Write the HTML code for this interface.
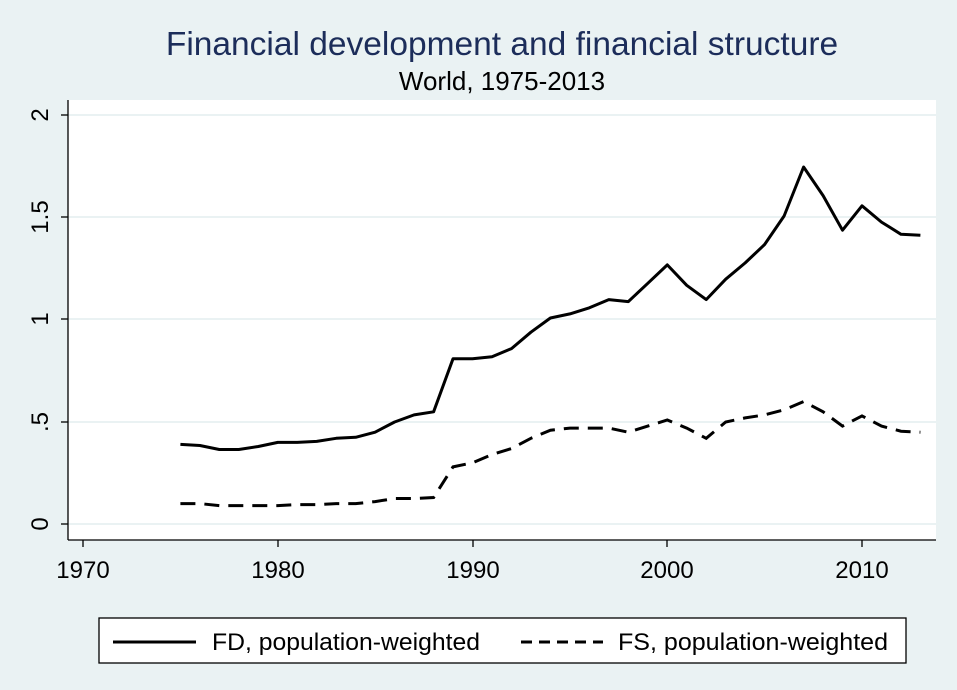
<!DOCTYPE html>
<html><head><meta charset="utf-8"><style>
html,body{margin:0;padding:0;background:#eaf2f3;}
svg{display:block;}
text{font-family:"Liberation Sans",Arial,sans-serif;}
</style></head><body>
<svg id="s" width="957" height="690" xmlns="http://www.w3.org/2000/svg">
<rect width="957" height="690" fill="#eaf2f3"/>
<text x="502" y="55" font-size="33.5" fill="#1c2d5a" text-anchor="middle">Financial development and financial structure</text>
<text x="502" y="90" font-size="26" fill="#000" text-anchor="middle">World, 1975-2013</text>
<rect x="68" y="100" width="868" height="440" fill="#fff"/>
<g stroke="#eaf2f3" stroke-width="2">
<line x1="68" x2="936" y1="115" y2="115"/><line x1="68" x2="936" y1="217" y2="217"/>
<line x1="68" x2="936" y1="319" y2="319"/><line x1="68" x2="936" y1="422" y2="422"/>
<line x1="68" x2="936" y1="524" y2="524"/>
</g>
<g stroke="#000" stroke-width="1.3">
<line x1="68" y1="100" x2="68" y2="540"/><line x1="68" y1="540" x2="936" y2="540"/>
<line x1="61" x2="68" y1="115" y2="115"/><line x1="61" x2="68" y1="217" y2="217"/>
<line x1="61" x2="68" y1="319" y2="319"/><line x1="61" x2="68" y1="422" y2="422"/>
<line x1="61" x2="68" y1="524" y2="524"/>
<line x1="83" x2="83" y1="540" y2="547"/><line x1="278" x2="278" y1="540" y2="547"/>
<line x1="473" x2="473" y1="540" y2="547"/><line x1="667" x2="667" y1="540" y2="547"/>
<line x1="862" x2="862" y1="540" y2="547"/>
</g>
<g font-size="24" fill="#000" text-anchor="middle">
<text transform="translate(48,115) rotate(-90)">2</text>
<text transform="translate(48,217) rotate(-90)">1.5</text>
<text transform="translate(48,319) rotate(-90)">1</text>
<text transform="translate(48,422) rotate(-90)">.5</text>
<text transform="translate(48,524) rotate(-90)">0</text>
<text x="83" y="578">1970</text><text x="278" y="578">1980</text>
<text x="473" y="578">1990</text><text x="667" y="578">2000</text>
<text x="862" y="578">2010</text>
</g>
<polyline id="fd" fill="none" stroke="#000" stroke-width="3" stroke-linejoin="round"/>
<polyline id="fs" fill="none" stroke="#000" stroke-width="3" stroke-dasharray="15,9"/>
<rect x="99" y="618" width="807" height="45" fill="#fff" stroke="#000" stroke-width="1.3"/>
<line x1="113" x2="196" y1="642" y2="642" stroke="#000" stroke-width="3"/>
<line x1="521" x2="603" y1="642" y2="642" stroke="#000" stroke-width="3" stroke-dasharray="11,7"/>
<text x="212" y="650" font-size="24.5" textLength="268" lengthAdjust="spacingAndGlyphs">FD, population-weighted</text>
<text x="618" y="650" font-size="24.5" textLength="270" lengthAdjust="spacingAndGlyphs">FS, population-weighted</text>
</svg>
<script>
var fd=[.39,.385,.365,.365,.38,.40,.40,.405,.42,.425,.45,.50,.535,.55,.81,.81,.82,.86,.94,1.01,1.03,1.06,1.10,1.09,1.18,1.27,1.17,1.10,1.20,1.28,1.37,1.51,1.75,1.61,1.44,1.56,1.48,1.42,1.415];
var fs=[.10,.10,.09,.09,.09,.09,.095,.095,.10,.10,.11,.125,.125,.13,.28,.30,.34,.37,.42,.46,.47,.47,.47,.45,.48,.51,.47,.42,.50,.52,.535,.56,.60,.55,.48,.53,.48,.455,.45];
function pts(a){return a.map(function(v,i){return (83+19.475*(i+5)).toFixed(1)+","+(524-204*v).toFixed(1);}).join(" ");}
document.getElementById("fd").setAttribute("points",pts(fd));
document.getElementById("fs").setAttribute("points",pts(fs));
</script>
</body></html>
